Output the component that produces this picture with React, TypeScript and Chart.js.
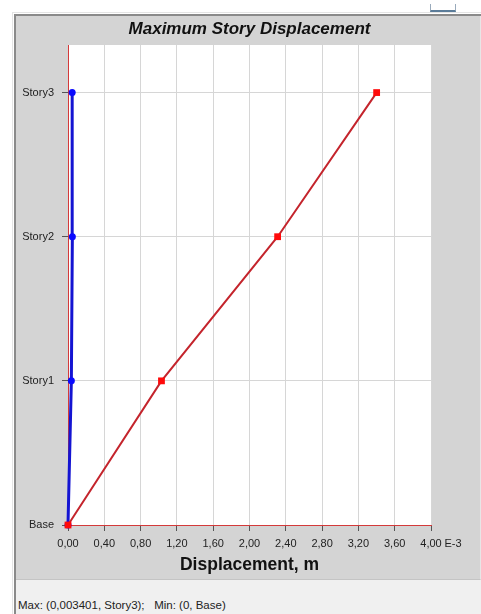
import React, { useEffect, useRef } from "react";
import { Chart, registerables } from "chart.js";

Chart.register(...registerables);

const stories = ["Base", "Story1", "Story2", "Story3"];
const storyLevels = [0, 1, 2, 3];
const xTickValues = [0, 0.4, 0.8, 1.2, 1.6, 2.0, 2.4, 2.8, 3.2, 3.6, 4.0];
const redDisplacement = [0, 1.03, 2.31, 3.401]; // E-3 m
const blueDisplacement = [0, 0.037, 0.048, 0.046]; // E-3 m
const titleText = "Maximum Story Displacement";
const xTitleText = "Displacement, m";
const exponentText = "E-3";
const statusText = "Max: (0,003401, Story3);   Min: (0, Base)";

const FONT = "'Liberation Sans', Arial, sans-serif";
const RED_AXIS = "#d43a3a";
const GRID = "#d6d6d6";
const TICK = "#555555";

export default function App() {
  const ref = useRef<HTMLCanvasElement | null>(null);

  useEffect(() => {
    if (!ref.current) return;
    const plotBg = {
      id: "plotBg",
      beforeDraw(chart: any) {
        const { ctx, chartArea } = chart;
        ctx.save();
        ctx.fillStyle = "#ffffff";
        ctx.fillRect(chartArea.left, chartArea.top, chartArea.right - chartArea.left, chartArea.bottom - chartArea.top);
        ctx.restore();
      },
      afterDraw(chart: any) {
        const { ctx } = chart;
        const xs = chart.scales.x;
        const px = xs.getPixelForValue(xTickValues[xTickValues.length - 1]);
        ctx.save();
        ctx.font = `11px ${FONT}`;
        ctx.fillStyle = "#222222";
        ctx.textAlign = "left";
        ctx.textBaseline = "middle";
        ctx.fillText(exponentText, px + 13.5, xs.top + 6 + 6 + 6.5);
        ctx.restore();
      },
    };

    const chart = new Chart(ref.current, {
      type: "line",
      data: {
        datasets: [
          {
            label: "Red",
            data: storyLevels.map((y, i) => ({ x: redDisplacement[i], y })),
            borderColor: "#c4242c",
            borderWidth: 2,
            pointStyle: "rect",
            pointRadius: 4.8,
            pointBackgroundColor: "#ff0a0a",
            pointBorderColor: "#ff0a0a",
            pointBorderWidth: 0,
            clip: false as any,
          },
          {
            label: "Blue",
            data: storyLevels.map((y, i) => ({ x: blueDisplacement[i], y })),
            borderColor: "#1414d2",
            borderWidth: 3,
            pointStyle: "circle",
            pointRadius: 3.5,
            pointBackgroundColor: "#0a0aff",
            pointBorderColor: "#0a0aff",
            pointBorderWidth: 0,
            clip: false as any,
          },
        ],
      },
      options: {
        responsive: false,
        animation: false,
        layout: { padding: { left: 0, top: 0, right: 50, bottom: 0 } },
        plugins: {
          legend: { display: false },
          tooltip: { enabled: false },
          title: {
            display: true,
            text: titleText,
            fullSize: false,
            color: "#111111",
            font: { family: FONT, size: 17, weight: "bold", style: "italic" },
            padding: { top: 19, bottom: 5.6 },
          },
        },
        scales: {
          x: {
            type: "linear",
            min: 0,
            max: 4,
            afterBuildTicks(scale: any) {
              scale.ticks = xTickValues.map((v) => ({ value: v }));
            },
            afterFit(scale: any) {
              scale.height = 57;
            },
            grid: {
              color: (c: any) => (c.tick && c.tick.value === 0 ? RED_AXIS : GRID),
              tickColor: TICK,
              tickLength: 6,
              lineWidth: 1,
            },
            border: { color: RED_AXIS, width: 1 },
            ticks: {
              color: "#222222",
              padding: 6,
              maxRotation: 0,
              autoSkip: false,
              font: { family: FONT, size: 11 },
              callback: (v: any) => Number(v).toFixed(2).replace(".", ","),
            },
            title: {
              display: true,
              text: xTitleText,
              color: "#111111",
              font: { family: FONT, size: 17.5, weight: "bold" },
              padding: { top: 0, bottom: 6 },
            },
          },
          y: {
            type: "linear",
            min: 0,
            max: 3.33,
            afterBuildTicks(scale: any) {
              scale.ticks = storyLevels.map((v) => ({ value: v }));
            },
            afterFit(scale: any) {
              scale.width = 68;
            },
            grid: {
              color: (c: any) => (c.tick && c.tick.value === 0 ? RED_AXIS : GRID),
              tickColor: TICK,
              tickLength: 6,
            },
            border: { color: RED_AXIS, width: 1 },
            ticks: {
              color: "#222222",
              padding: 8,
              autoSkip: false,
              font: { family: FONT, size: 11 },
              callback: (v: any) => stories[storyLevels.indexOf(Number(v))] ?? "",
            },
          },
        },
      },
      plugins: [plotBg],
    } as any);
    return () => chart.destroy();
  }, []);

  return (
    <div style={{ position: "fixed", left: 0, top: 0, width: 481, height: 614, background: "#ffffff", overflow: "hidden", fontFamily: FONT }}>
      <div style={{ position: "absolute", left: 430, top: 4, width: 24, height: 6, borderLeft: "1px solid #9ab", borderRight: "1px solid #9ab", borderBottom: "2px solid #5b7c99" }} />
      <div style={{ position: "absolute", left: 12, top: 12, width: 469, height: 602, borderLeft: "1px solid #e4e4e4", borderTop: "1px solid #e4e4e4" }} />
      <div style={{ position: "absolute", left: 14, top: 14, width: 467, height: 600, background: "#f0f0f0", borderLeft: "2px solid #8a8a8a", borderTop: "2px solid #8a8a8a", boxSizing: "border-box" }} />
      <div style={{ position: "absolute", left: 16, top: 16, width: 464, height: 563, background: "#d4d4d4", borderRight: "1px solid #e6e6e6", borderBottom: "1px solid #c4c4c4" }} />
      <canvas ref={ref} width={481} height={582} style={{ position: "absolute", left: 0, top: 0, width: 481, height: 582 }} />
      <div style={{ position: "absolute", left: 18, top: 598, fontSize: 11.5, color: "#222222", whiteSpace: "pre", lineHeight: "14px" }}>{statusText}</div>
    </div>
  );
}
